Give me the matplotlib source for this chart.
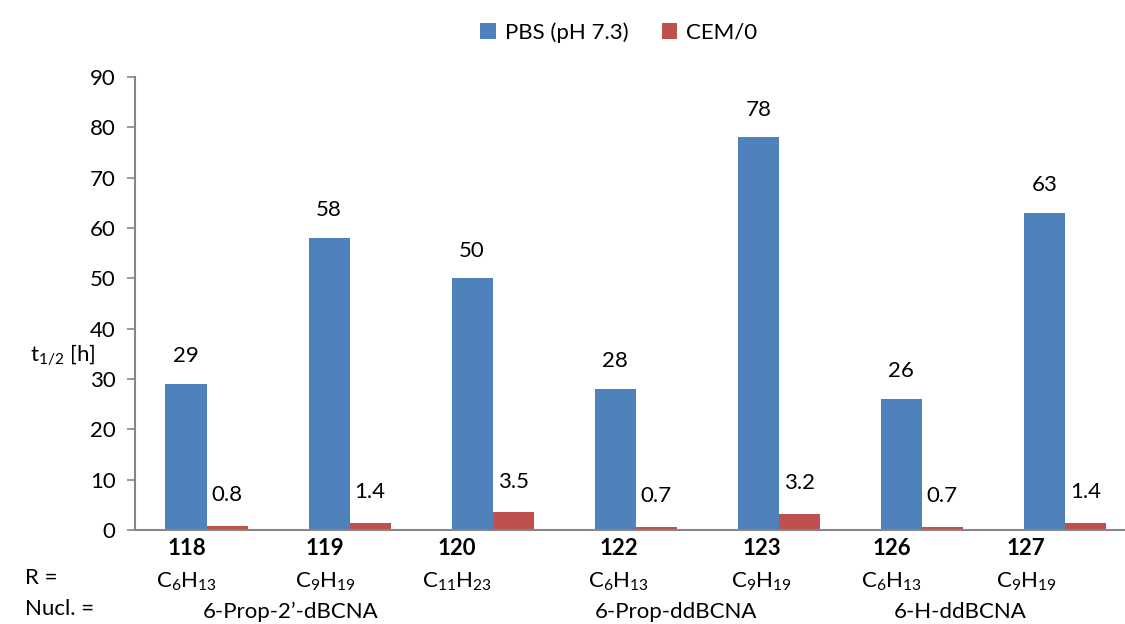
import matplotlib.pyplot as plt
import numpy as np

plt.rcParams['font.family'] = ['Lato', 'DejaVu Sans']

compounds = ['118', '119', '120', '122', '123', '126', '127']
r_groups = ['C_6H_{13}', 'C_9H_{19}', 'C_{11}H_{23}', 'C_6H_{13}', 'C_9H_{19}', 'C_6H_{13}', 'C_9H_{19}']
pbs = [29, 58, 50, 28, 78, 26, 63]
cem = [0.8, 1.4, 3.5, 0.7, 3.2, 0.7, 1.4]
pbs_text = ['29', '58', '50', '28', '78', '26', '63']
cem_text = ['0.8', '1.4', '3.5', '0.7', '3.2', '0.7', '1.4']
# label positions under the axis (excel multi-level labels drift a bit)
label_x = [-0.14, 0.83, 1.75, 2.88, 3.88, 4.79, 5.73]
nucl = ['6-Prop-2\u2019-dBCNA', '6-Prop-ddBCNA', '6-H-ddBCNA']
nucl_x = [0.59, 3.28, 5.27]

blue = '#4F81BD'
red = '#C0504D'
grey = '#868686'
fs = 16

fig = plt.figure(figsize=(11.25, 6.24), dpi=100)
ax = fig.add_axes([0.12, 0.1506, 0.88, 0.726])

x = np.arange(len(compounds))
w = 0.287
b1 = ax.bar(x - w / 2, pbs, w, color=blue, label='PBS (pH 7.3)')
b2 = ax.bar(x + w / 2, cem, w, color=red, label='CEM/0')

for rect, t in zip(b1, pbs_text):
    ax.annotate(t, (rect.get_x() + rect.get_width() / 2, rect.get_height()),
                xytext=(0, 20), textcoords='offset points', ha='center', va='center', fontsize=fs)
for rect, t in zip(b2, cem_text):
    ax.annotate(t, (rect.get_x() + rect.get_width() / 2, rect.get_height()),
                xytext=(0, 22), textcoords='offset points', ha='center', va='center', fontsize=fs)

ax.set_ylim(0, 90)
ax.set_xlim(-0.5, 6.42)
ax.set_yticks(range(0, 91, 10))
ax.tick_params(axis='y', labelsize=fs, color=grey, length=6, width=1.2, pad=8)
ax.set_xticks([])
for s in ['top', 'right']:
    ax.spines[s].set_visible(False)
for s in ['left', 'bottom']:
    ax.spines[s].set_color(grey)
    ax.spines[s].set_linewidth(1.5)

ax.text(-0.04, 0.385, r'$\mathregular{t_{1/2}}$ [h]', transform=ax.transAxes, fontsize=fs,
        ha='right', va='center')

for xi, c, r in zip(label_x, compounds, r_groups):
    ax.text(xi, -3.6, c, ha='center', va='center', fontsize=fs, fontweight='bold')
    ax.text(xi, -10.2, r'$\mathregular{' + r + '}$', ha='center', va='center', fontsize=fs)
for xi, n in zip(nucl_x, nucl):
    ax.text(xi, -16.2, n, ha='center', va='center', fontsize=fs)
fig.text(0.022, 1 - 578 / 624, 'R =', ha='left', va='center', fontsize=fs)
fig.text(0.022, 1 - 609 / 624, 'Nucl. =', ha='left', va='center', fontsize=fs)

ax.legend(loc='upper center', bbox_to_anchor=(0.55, 1 - 2 / 624), bbox_transform=fig.transFigure,
          ncol=2, frameon=False, fontsize=fs, handlelength=0.7, handleheight=0.7,
          handletextpad=0.4, columnspacing=1.5)

plt.savefig('out.png', dpi=100)
